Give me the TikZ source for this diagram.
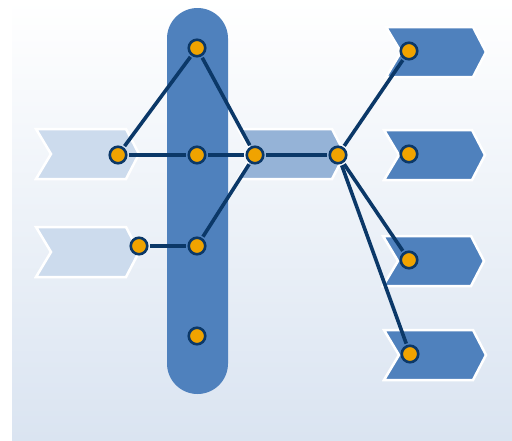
\documentclass[tikz,border=0pt]{standalone}
\usetikzlibrary{shapes.geometric}
\definecolor{bgbot}{HTML}{DAE4F1}
\definecolor{pale}{HTML}{CCDBED}
\definecolor{mid}{HTML}{95B3D7}
\definecolor{deep}{HTML}{4F81BD}
\definecolor{navy}{HTML}{0B3868}
\definecolor{gold}{HTML}{F0A300}
\tikzset{
  dot/.style={circle, fill=gold, draw=navy, line width=2.6pt, minimum size=16.5pt, inner sep=0pt},
  link/.style={draw=navy, line width=3.6pt, shorten <=1.5pt, shorten >=1.5pt},
  chev/.style={draw=white, line width=2.5pt, line join=miter}
}
\newcommand{\chevron}[4]{% #1 fill, #2 left x, #3 top y, #4 right x (body)
  \fill[#1] (#2,#3) -- (#4,#3) -- ++(13,25) -- ++(-13,25) -- (#2,#3+50) -- ++(15,-25) -- cycle;
  \draw[chev] (#2,#3) -- (#4,#3) -- ++(13,25) -- ++(-13,25) -- (#2,#3+50) -- ++(15,-25) -- cycle;
}
\begin{document}
\begin{tikzpicture}[x=1pt,y=-1pt]
\useasboundingbox (0,0) rectangle (512,440);
\shade[top color=white, bottom color=bgbot] (12,0) rectangle (512,440);
% left chevrons
\chevron{pale}{36}{129}{126}
\chevron{pale}{36}{227}{126}
% middle chevron
\chevron{mid}{238}{129}{332}
% pill
\fill[deep, rounded corners=30.5pt] (167,8) rectangle (228,394);
% right chevrons
\chevron{deep}{386}{27}{473}
\chevron{deep}{384}{130}{472}
\chevron{deep}{383}{236}{471}
\chevron{deep}{384}{330}{473}
% nodes
\node[dot] (a) at (197,48) {};
\node[dot] (b) at (118,155) {};
\node[dot] (c) at (197,155) {};
\node[dot] (d) at (255,155) {};
\node[dot] (e) at (338,155) {};
\node[dot] (f) at (139,246) {};
\node[dot] (g) at (197,246) {};
\node[dot] (h) at (197,336) {};
\node[dot] (r1) at (409,51) {};
\node[dot] (r2) at (409,154) {};
\node[dot] (r3) at (409,260) {};
\node[dot] (r4) at (410,354) {};
% links
\draw[link] (b) -- (a);
\draw[link] (a) -- (d);
\draw[link] (b) -- (c);
\draw[link] (c) -- (d);
\draw[link] (d) -- (e);
\draw[link] (d) -- (g);
\draw[link] (g) -- (f);
\draw[link] (e) -- (r1);
\draw[link] (e) -- (r3);
\draw[link] (e) -- (r4);
\end{tikzpicture}
\end{document}
